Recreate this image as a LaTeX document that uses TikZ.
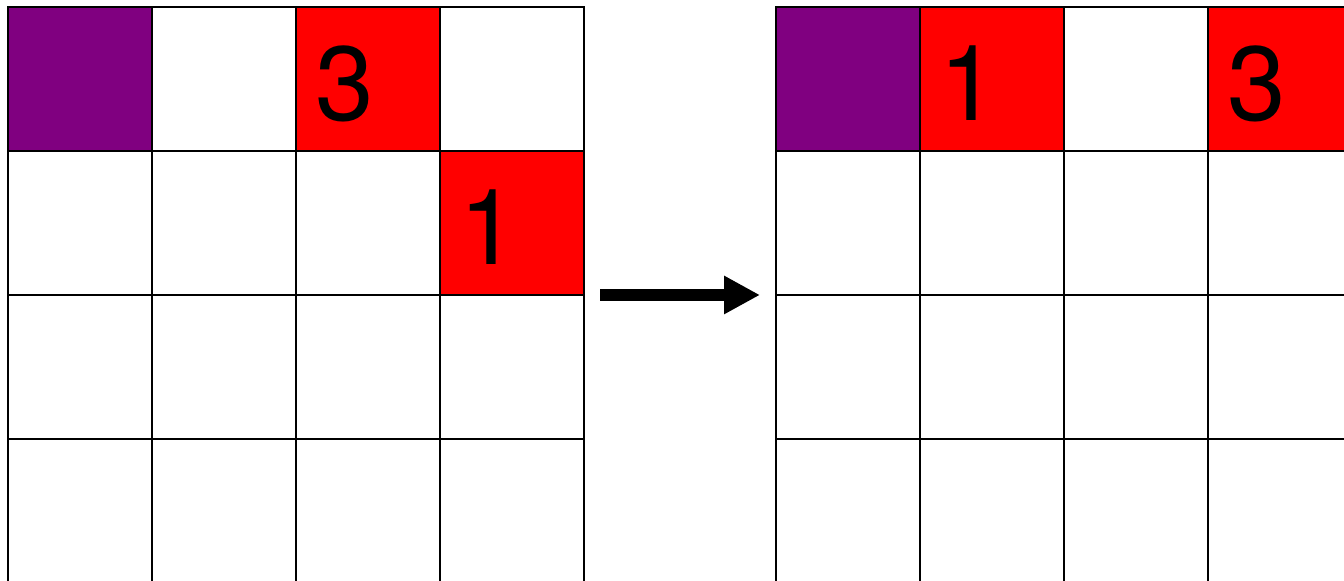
\documentclass[tikz,border=0pt]{standalone}
\usepackage{fontspec}
\setmainfont{TeX Gyre Heros}
\usetikzlibrary{arrows.meta}
\definecolor{cellpurple}{RGB}{128,0,128}
\definecolor{cellred}{RGB}{255,0,0}

\begin{document}
\begin{tikzpicture}[
    cell/.style={rectangle, draw=black, line width=0.6pt, minimum size=1.44cm, inner sep=0pt, outer sep=0pt},
    digit/.style={anchor=base west, inner sep=0pt, font=\fontsize{30}{36}\selectfont},
    arrow/.style={-{Triangle[length=0.36cm, width=0.36cm]}, line width=0.12cm, shorten <=0.16cm, shorten >=0.16cm},
]
\clip (0,0) rectangle (13.44,5.81);

% the two grids
\foreach \r in {0,...,3}
  \foreach \c in {0,...,3} {
    \node[cell] (L\r\c) at (0.80+1.44*\c, 5.02-1.44*\r) {};
    \node[cell] (R\r\c) at (8.48+1.44*\c, 5.02-1.44*\r) {};
  }

% coloured cells
\foreach \n/\col in {L00/cellpurple, L02/cellred, L13/cellred, R00/cellpurple, R01/cellred, R03/cellred}
  \node[cell, fill=\col] (\n-fill) at (\n) {};

% numbers
\foreach \n/\d in {L02/3, L13/1, R01/1, R03/3}
  \node[digit] (\n-num) at ([shift={(0.19,-1.14)}]\n.north west) {\d};

\draw[arrow] (L13.south east) -- (R10.south west);
\end{tikzpicture}
\end{document}
